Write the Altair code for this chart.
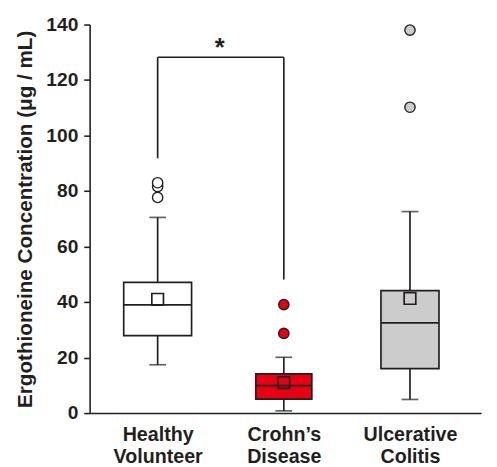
import json
import altair as alt
import pandas as pd

# ---- data ----
groups = ["Healthy Volunteer", "Crohn’s Disease", "Ulcerative Colitis"]
whisker_low = [17.4, 0.8, 4.9]
q1 = [27.9, 5.0, 16.0]
median = [39.0, 9.9, 32.5]
q3 = [47.1, 14.1, 44.1]
whisker_high = [70.5, 20.1, 72.6]
means = [41.0, 11.0, 41.3]
outliers = [[77.7, 81.6, 83.0], [28.7, 39.1], [110.2, 138.0]]

bracket_from = 0
bracket_to = 1
bracket_top = 128.2
bracket_left_bottom = 91.8
bracket_right_bottom = 48.1
sig_label = "*"

y_ticks = [0, 20, 40, 60, 80, 100, 120, 140]

# ---- styles ----
INK = "#231f20"
fills = ["#ffffff", "#e60012", "#cccccc"]
box_widths = [69, 57, 59]
FONT = "Liberation Sans"

stats = pd.DataFrame({
    "group": groups,
    "idx": list(range(len(groups))),
    "wlo": whisker_low, "q1": q1, "med": median, "q3": q3,
    "whi": whisker_high, "mean": means,
})
out_rows = []
for i, vals in enumerate(outliers):
    for v in vals:
        out_rows.append({"group": groups[i], "idx": i, "value": v})
out_df = pd.DataFrame(out_rows)

bracket_df = pd.DataFrame([
    {"idx": bracket_from, "x2": bracket_to, "y": bracket_top, "y2": bracket_top},
    {"idx": bracket_from, "x2": bracket_from, "y": bracket_left_bottom, "y2": bracket_top},
    {"idx": bracket_to, "x2": bracket_to, "y": bracket_right_bottom, "y2": bracket_top},
])
sig_df = pd.DataFrame([{"idx": (bracket_from + bracket_to) / 2, "y": bracket_top, "t": sig_label}])

label_lines = json.dumps([g.split(" ") for g in groups], ensure_ascii=False)

xscale = alt.Scale(domain=[-0.5, 2.525], nice=False, zero=False)
yscale = alt.Scale(domain=[0, 140], nice=False)
color_scale = alt.Scale(domain=groups, range=fills)

x_axis = alt.Axis(values=list(range(len(groups))), labelExpr=f"{label_lines}[datum.value]",
                  ticks=False, tickSize=0, grid=False, title=None, labelPadding=12,
                  labelLineHeight=22, labelBaseline="top", labelFontSize=20)
y_axis = alt.Axis(values=y_ticks, grid=False, tickSize=6, labelPadding=6, labelFontSize=19.5,
                  title="Ergothioneine Concentration (μg / mL)", titlePadding=11)

X = alt.X("idx:Q", scale=xscale, axis=x_axis)
Y = lambda f: alt.Y(f"{f}:Q", scale=yscale, axis=y_axis)

base = alt.Chart(stats)
SW = 1.7

whiskers_hi = base.mark_rule(color=INK, strokeWidth=SW).encode(x=X, y=Y("q3"), y2="whi:Q")
whiskers_lo = base.mark_rule(color=INK, strokeWidth=SW).encode(x=X, y=Y("wlo"), y2="q1:Q")
cap_hi = base.mark_tick(color=INK, size=17, thickness=SW, orient="horizontal").encode(x=X, y=Y("whi"))
cap_lo = base.mark_tick(color=INK, size=17, thickness=SW, orient="horizontal").encode(x=X, y=Y("wlo"))

layers = [whiskers_hi, whiskers_lo, cap_hi, cap_lo]
for i, g in enumerate(groups):
    sub = base.transform_filter(alt.datum.group == g)
    layers.append(sub.mark_bar(size=box_widths[i], stroke=INK, strokeWidth=SW, fill=fills[i])
                  .encode(x=X, y=Y("q1"), y2="q3:Q"))
    layers.append(sub.mark_tick(size=box_widths[i], thickness=SW, color=INK, orient="horizontal",
                                opacity=1)
                  .encode(x=X, y=Y("med")))

mean_pts = base.mark_point(shape="square", size=140, filled=False, stroke=INK,
                           strokeWidth=SW, opacity=1).encode(x=X, y=Y("mean"))
out_pts = alt.Chart(out_df).mark_point(shape="circle", size=110, filled=True, stroke=INK,
                                       strokeWidth=1.4, opacity=1).encode(
    x=X, y=Y("value"), fill=alt.Fill("group:N", scale=color_scale, legend=None))

bracket = alt.Chart(bracket_df).mark_rule(color=INK, strokeWidth=SW).encode(
    x=X, x2="x2:Q", y=Y("y"), y2="y2:Q")
sig = alt.Chart(sig_df).mark_text(fontSize=26, fontWeight="bold", font=FONT, color=INK,
                                  baseline="alphabetic", dy=-1, dx=-1).encode(
    x=X, y=Y("y"), text="t:N")

layers += [mean_pts, out_pts, bracket, sig]

chart = alt.layer(*layers).properties(
    width=398, height=395,
    autosize=alt.AutoSizeParams(type="none"),
    padding={"left": 83, "top": 13, "right": 8, "bottom": 50},
).configure_view(stroke=None).configure_axis(
    domainColor=INK, domainWidth=1.6, tickColor=INK, tickWidth=1.6,
    labelFont=FONT, labelFontWeight="bold", labelColor=INK,
    titleFont=FONT, titleFontSize=21, titleFontWeight="bold", titleColor=INK,
)

chart.save("out.html", embed_options={"renderer": "svg", "actions": False})
